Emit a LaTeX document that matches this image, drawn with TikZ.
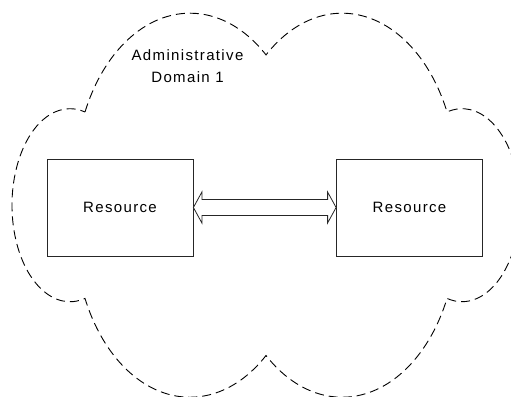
\documentclass[tikz,border=0pt]{standalone}
\usepackage{fontspec}
\setmainfont{Liberation Sans}
\usetikzlibrary{calc}

\begin{document}
\begin{tikzpicture}[
  x=1pt, y=1pt,
  resbox/.style={
    rectangle, draw=black!85, line width=0.8pt,
    minimum width=146pt, minimum height=97pt,
    inner sep=0pt, fill=white,
    font=\fontsize{15}{22}\selectfont\addfontfeature{LetterSpace=9}
  },
  domainlabel/.style={
    align=center, inner sep=0pt,
    font=\fontsize{15}{22}\selectfont\addfontfeature{LetterSpace=9}
  },
  cloudline/.style={line width=0.9pt, dash pattern=on 9pt off 5pt},
  linkarrow/.style={draw=black!85, line width=0.8pt, fill=white, line join=miter}
]
\useasboundingbox (0,0) rectangle (511,396);
\clip (0,0) rectangle (511,396);

% domain outline
\draw[cloudline] (85,284)
  arc[start angle=155.9, end angle=48.6, x radius=115, y radius=167]
  arc[start angle=131.4, end angle=24.1, x radius=115, y radius=167]
  arc[start angle=105, end angle=-105, x radius=58, y radius=96.5]
  arc[start angle=-24.1, end angle=-131.4, x radius=115, y radius=167]
  arc[start angle=-48.6, end angle=-155.9, x radius=115, y radius=167]
  arc[start angle=-75, end angle=-285, x radius=58, y radius=96.5]
  -- cycle;

\node[domainlabel] (dom) at (187.5,330) {Administrative\\Domain 1};

\node[resbox] (lres) at (120,188.5) {Resource};
\node[resbox] (rres) at (409.5,188.5) {Resource};

\draw[linkarrow] (lres.east) -- ++(8.5,15.5) -- ++(0,-7.5)
  -- ($(rres.west)+(-8.5,8)$) -- ++(0,7.5) -- (rres.west)
  -- ++(-8.5,-15.5) -- ++(0,7.5)
  -- ($(lres.east)+(8.5,-8)$) -- ++(0,-7.5) -- cycle;
\end{tikzpicture}
\end{document}
